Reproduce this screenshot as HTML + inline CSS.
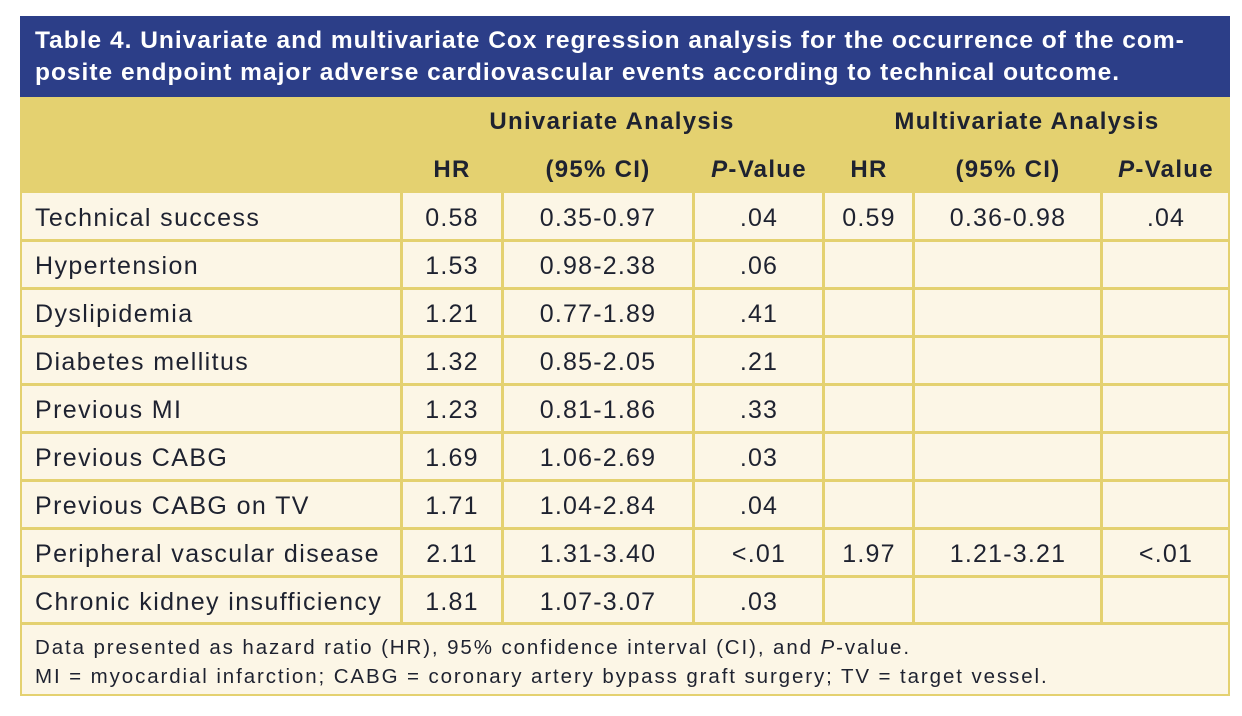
<!DOCTYPE html>
<html><head><meta charset="utf-8"><style>
body{margin:0;width:1242px;height:716px;background:#fff;position:relative;font-family:"Liberation Sans",sans-serif;color:#1e2230;overflow:hidden}
.a{position:absolute}
.t{left:20px;top:16px;width:1210px;height:81px;background:#2c3e88;color:#fff;font-weight:bold;font-size:24.5px;letter-spacing:1px;line-height:32px;box-sizing:border-box;padding:9px 0 0 15px;white-space:nowrap}
.h{left:20px;top:97px;width:1210px;height:96px;background:#e4d170}
.b{left:20px;top:193px;width:1210px;height:503px;background:#fcf6e6;border:2px solid #e4d170;border-top:none;box-sizing:border-box}
.hl{position:absolute;left:20px;width:1210px;height:3px;background:#e4d170}
.vl{position:absolute;top:193px;height:430px;width:3px;background:#e4d170}
.c{position:absolute;font-size:25px;letter-spacing:1.2px;text-align:center;line-height:49px;white-space:nowrap}
.l{position:absolute;left:35px;font-size:25px;letter-spacing:1.4px;line-height:49px;white-space:nowrap}
.hd{position:absolute;font-size:24px;letter-spacing:1.3px;font-weight:bold;text-align:center;white-space:nowrap}
.f{left:35px;top:633px;font-size:20.5px;letter-spacing:1.9px;line-height:29px;white-space:nowrap}
</style></head><body>
<div class="a t">Table 4. Univariate and multivariate Cox regression analysis for the occurrence of the com-<br>posite endpoint major adverse cardiovascular events according to technical outcome.</div>
<div class="a h"></div>
<div class="a b"></div>
<div class="hl" style="top:239px"></div><div class="hl" style="top:287px"></div><div class="hl" style="top:335px"></div><div class="hl" style="top:383px"></div><div class="hl" style="top:431px"></div><div class="hl" style="top:479px"></div><div class="hl" style="top:527px"></div><div class="hl" style="top:575px"></div><div class="hl" style="top:622px"></div>
<div class="vl" style="left:400px"></div><div class="vl" style="left:501px"></div><div class="vl" style="left:692px"></div><div class="vl" style="left:822px"></div><div class="vl" style="left:912px"></div><div class="vl" style="left:1100px"></div>
<div class="hd" style="left:402px;width:420px;top:108px">Univariate Analysis</div>
<div class="hd" style="left:824px;width:406px;top:108px">Multivariate Analysis</div>
<div class="hd" style="left:402px;width:100px;top:156px">HR</div>
<div class="hd" style="left:503px;width:190px;top:156px">(95% CI)</div>
<div class="hd" style="left:694px;width:130px;top:156px"><i>P</i>-Value</div>
<div class="hd" style="left:824px;width:90px;top:156px">HR</div>
<div class="hd" style="left:914px;width:188px;top:156px">(95% CI)</div>
<div class="hd" style="left:1102px;width:128px;top:156px"><i>P</i>-Value</div>
<div id="rows"></div>
<script>
var d=[["Technical success","0.58","0.35-0.97",".04","0.59","0.36-0.98",".04"],["Hypertension","1.53","0.98-2.38",".06","","",""],["Dyslipidemia","1.21","0.77-1.89",".41","","",""],["Diabetes mellitus","1.32","0.85-2.05",".21","","",""],["Previous MI","1.23","0.81-1.86",".33","","",""],["Previous CABG","1.69","1.06-2.69",".03","","",""],["Previous CABG on TV","1.71","1.04-2.84",".04","","",""],["Peripheral vascular disease","2.11","1.31-3.40","<.01","1.97","1.21-3.21","<.01"],["Chronic kidney insufficiency","1.81","1.07-3.07",".03","","",""]];
var cols=[[402,100],[503,190],[694,130],[824,90],[914,188],[1102,128]],h="";
d.forEach(function(r,i){var y=194+i*48;h+='<div class="l" style="top:'+y+'px">'+r[0]+'</div>';for(var j=0;j<6;j++)h+='<div class="c" style="top:'+y+'px;left:'+cols[j][0]+'px;width:'+cols[j][1]+'px">'+r[j+1].replace('<','&lt;')+'</div>';});
document.getElementById('rows').innerHTML=h;
</script>
<div class="a f">Data presented as hazard ratio (HR), 95% confidence interval (CI), and <i>P</i>-value.<br>MI = myocardial infarction; CABG = coronary artery bypass graft surgery; TV = target vessel.</div>
</body></html>
